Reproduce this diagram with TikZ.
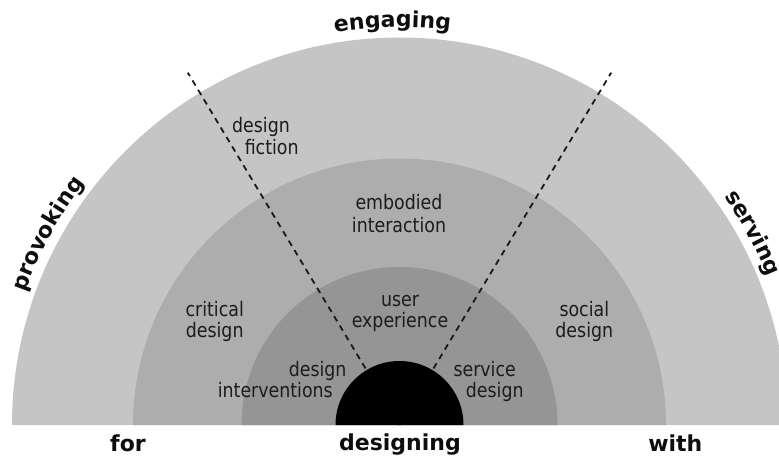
\documentclass[tikz,border=0pt]{standalone}
\usepackage{fontspec}
\usetikzlibrary{decorations.text}
\newfontfamily\lblfont[FakeStretch=0.87]{DejaVu Sans}
\newfontfamily\boldfont{DejaVu Sans Bold}
\definecolor{ringA}{HTML}{C5C5C5}
\definecolor{ringB}{HTML}{ADADAD}
\definecolor{ringC}{HTML}{959595}
\definecolor{lbltext}{HTML}{1C1C1C}
\definecolor{boldtext}{HTML}{0E0E0E}
\tikzset{
  lbl/.style={inner sep=0pt, text=lbltext, font=\lblfont\fontsize{20}{24}\selectfont},
  bigword/.style={inner sep=0pt, text=boldtext, font=\boldfont\fontsize{22}{26}\selectfont},
  divider/.style={draw=black!90, line width=1.8pt, dash pattern=on 6pt off 5pt},
  arcword/.style={decorate, decoration={text along path, text align=center,
      text color=boldtext, text={|\boldfont\fontsize{22}{26}\selectfont|#1}}}
}
\begin{document}
\begin{tikzpicture}[x=1pt,y=1pt]
\useasboundingbox (0,0) rectangle (779,458);
\clip (0,0) rectangle (779,458);
\coordinate (C) at (399.5,33);
% rings
\fill[ringA] ([shift={(0:387.5)}]C) arc[start angle=0,end angle=180,radius=387.5] -- cycle;
\fill[ringB] ([shift={(0:266.5)}]C) arc[start angle=0,end angle=180,radius=266.5] -- cycle;
\fill[ringC] ([shift={(0:158)}]C) arc[start angle=0,end angle=180,radius=158] -- cycle;
% dividers
\coordinate (dl) at ([shift={(121:411)}]C);
\coordinate (dr) at ([shift={(59:411)}]C);
\draw[divider] (C) -- (dl);
\draw[divider] (C) -- (dr);
% core
\fill[black] ([shift={(0:64)}]C) arc[start angle=0,end angle=180,radius=64] -- cycle;
% inner labels
\node[lbl, anchor=base] (df1) at (261,325) {design};
\node[lbl, anchor=base] (df2) at (271.7,303) {fiction};
\node[lbl, anchor=base] (ei1) at (399,248) {embodied};
\node[lbl, anchor=base] (ei2) at (399,225.3) {interaction};
\node[lbl, anchor=base] (cd1) at (214.7,141) {critical};
\node[lbl, anchor=base] (cd2) at (214.7,120) {design};
\node[lbl, anchor=base] (ux1) at (400,151.3) {user};
\node[lbl, anchor=base] (ux2) at (400,130) {experience};
\node[lbl, anchor=base] (sd1) at (584.3,141.3) {social};
\node[lbl, anchor=base] (sd2) at (584.3,120) {design};
\node[lbl, anchor=base east] (di1) at (346.7,81.3) {design};
\node[lbl, anchor=base east] (di2) at (333,60) {interventions};
\node[lbl, anchor=base west] (sv1) at (453.3,81.3) {service};
\node[lbl, anchor=base west] (sv2) at (465.7,60) {design};
% bottom words
\node[bigword, anchor=base] (for) at (128,7) {for};
\node[bigword, anchor=base] (designing) at (400,8) {designing};
\node[bigword, anchor=base] (with) at (675.3,7) {with};
% arc words
\path[arcword=provoking] ([shift={(171.5:397)}]C) arc[start angle=171.5,end angle=131.5,radius=397];
\path[arcword=engaging] ([shift={(111:398)}]C) arc[start angle=111,end angle=71,radius=398];
\path[arcword=serving] ([shift={(48.5:397)}]C) arc[start angle=48.5,end angle=8.5,radius=397];
\end{tikzpicture}
\end{document}
